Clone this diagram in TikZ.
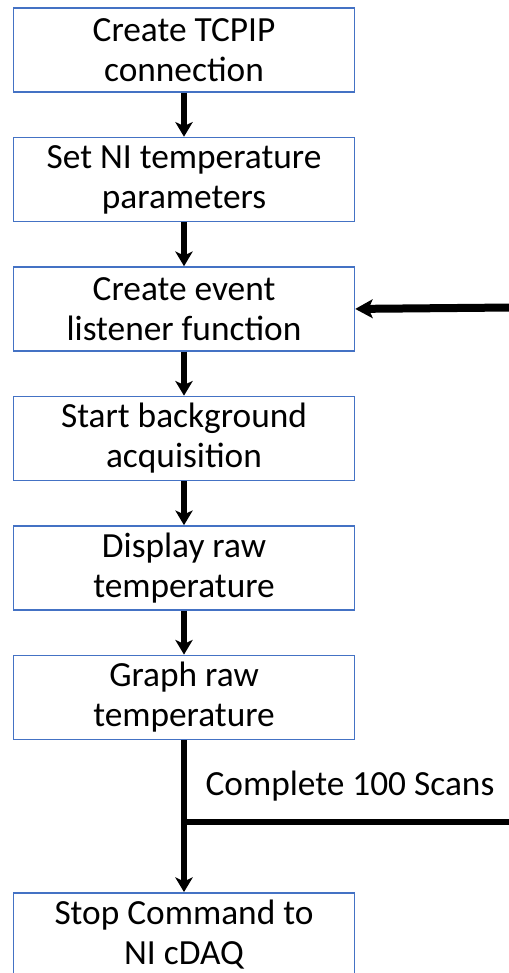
\documentclass[tikz,border=0pt]{standalone}
\usepackage{fontspec}
\setmainfont{Carlito}
\usetikzlibrary{positioning,arrows.meta}
\definecolor{boxblue}{RGB}{68,114,196}
\begin{document}
\begin{tikzpicture}[%
  x=0.75pt,
  y=0.75pt,
  node distance=33pt,
  >={Stealth[width=13pt,length=11pt,inset=3pt]},
  stepbox/.style={
    draw=boxblue,
    line width=1.1pt,
    minimum width=255.75pt,
    minimum height=63pt,
    inner sep=0pt,
    align=center,
    font=\fontsize{26.5}{30}\selectfont},
  pil/.style={
    ->,
    line width=4pt},
  loop/.style={
    ->,
    line width=6pt,
    >={Stealth[width=14pt,length=13pt,inset=3pt]}}
  ]
  \useasboundingbox (0,0) rectangle (509,-973);
  %% Nodes
  \node[stepbox] (tcpip) at (184,-50) {Create TCPIP\\connection};
  \node[stepbox, below = of tcpip] (params) {Set NI temperature\\parameters};
  \node[stepbox, below = of params] (listener) {Create event\\listener function};
  \node[stepbox, below = of listener] (acquire) {Start background\\acquisition};
  \node[stepbox, below = of acquire] (display) {Display raw\\temperature};
  \node[stepbox, below = of display] (graph) {Graph raw\\temperature};
  \node[stepbox, below = 114pt of graph] (stop) {Stop Command to\\NI cDAQ};
  \node[font=\fontsize{26.5}{30}\selectfont] (scans) at (350,-786) {Complete 100 Scans};
  \coordinate (split) at (184,-822);
  \coordinate (outend) at (512,-822);
  \coordinate (inend) at (512,-307.5);
  %% Edges
  \draw[pil] (tcpip) -- (params);
  \draw[pil] (params) -- (listener);
  \draw[pil] (listener) -- (acquire);
  \draw[pil] (acquire) -- (display);
  \draw[pil] (display) -- (graph);
  \draw[pil] (graph) -- (stop);
  \draw[line width=4pt] (split) -- (outend);
  \draw[loop] (inend) -- (listener.east);
\end{tikzpicture}
\end{document}
